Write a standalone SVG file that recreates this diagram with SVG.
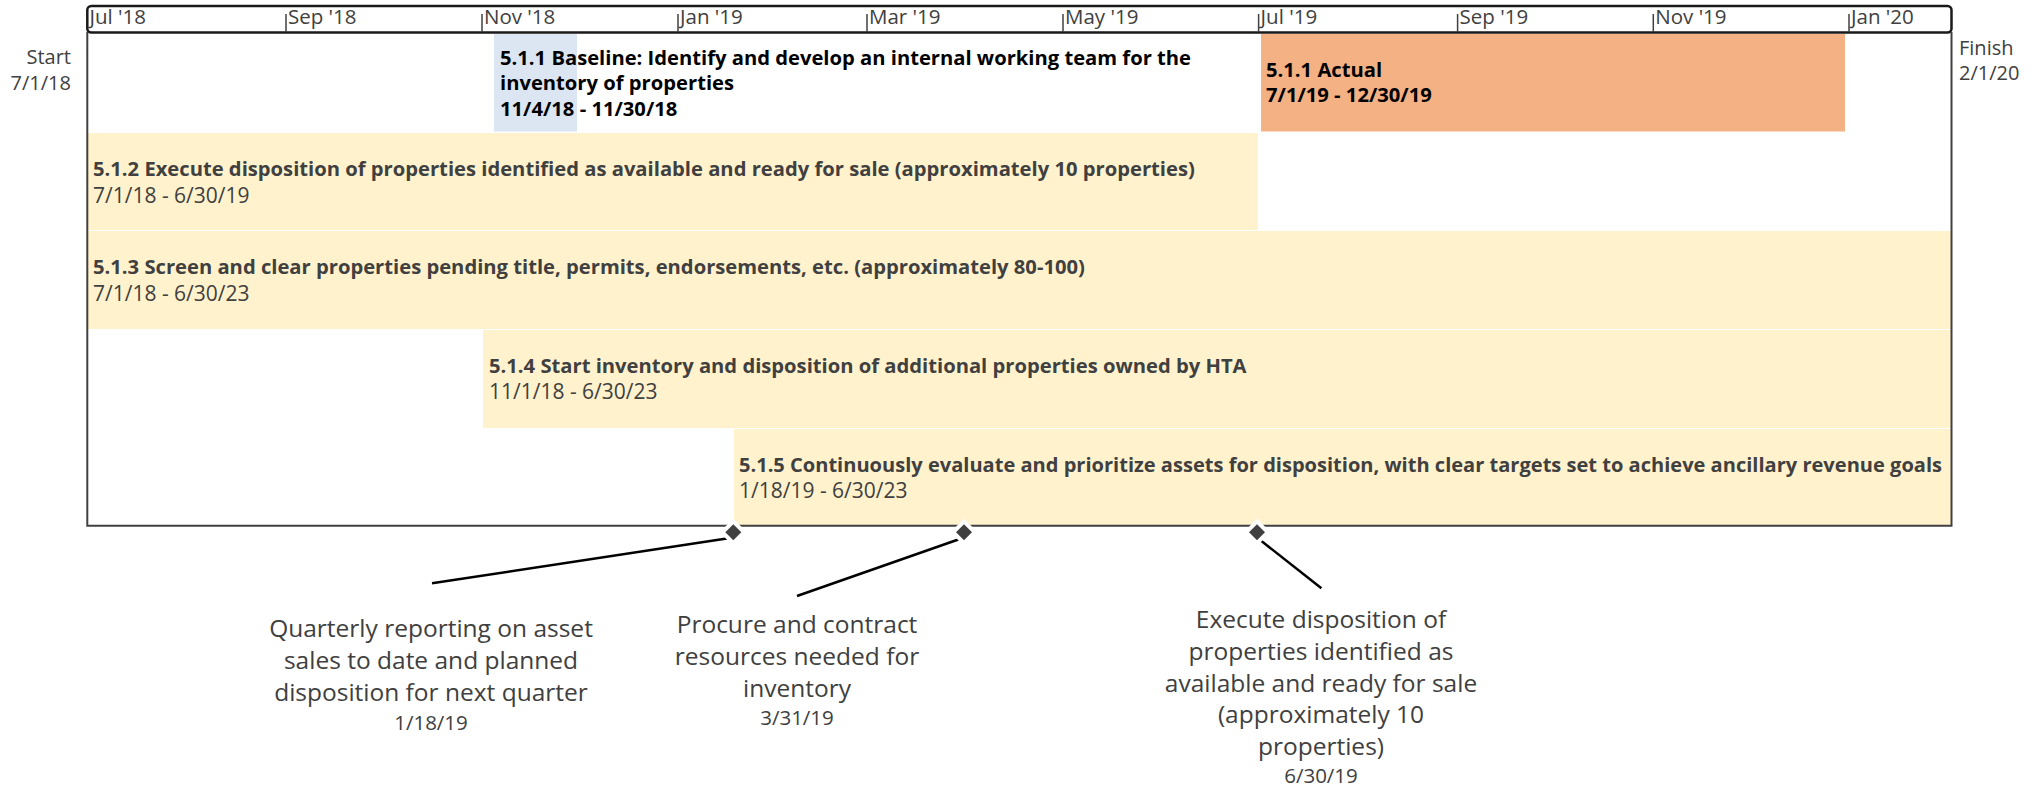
<svg xmlns="http://www.w3.org/2000/svg" width="2040" height="790" viewBox="0 0 2040 790">
<defs>
<style>
text{font-family:"Open Sans","Noto Sans","Liberation Sans",sans-serif;}
.hdr{font-size:20.5px;fill:#404040;}
.se{font-size:20px;fill:#404040;}
.tt{font-size:20.2px;font-weight:700;fill:#404040;}
.dt{font-size:21px;fill:#404040;}
.bk{font-size:20.2px;font-weight:700;fill:#000;}
.ml{font-size:24.5px;font-weight:400;fill:#404040;text-anchor:middle;}
.md{font-size:20.5px;font-weight:400;fill:#404040;text-anchor:middle;}
.bar{fill:#FFF2CC;}
.tick{stroke:#404040;stroke-width:1.5;}
.conn{stroke:#000;stroke-width:2.5;fill:none;}
.dia{fill:#404040;stroke:#fff;stroke-width:8;paint-order:stroke;stroke-linejoin:miter;}
</style>
</defs>
<rect width="2040" height="790" fill="#fff"/>

<g id="task-5-1-1">
<rect x="494" y="34" width="83" height="97.5" fill="#DCE6F2"/>
<rect x="1261" y="34" width="584" height="97.5" fill="#F4B183"/>
<text class="bk" x="500" y="65">5.1.1 Baseline: Identify and develop an internal working team for the</text>
<text class="bk" x="500" y="90">inventory of properties</text>
<text class="bk" x="500" y="116">11/4/18 - 11/30/18</text>
<text class="bk" x="1266" y="77">5.1.1 Actual</text>
<text class="bk" x="1266" y="102">7/1/19 - 12/30/19</text>
</g>

<g id="task-5-1-2">
<rect class="bar" x="88" y="133" width="1170" height="97"/>
<text class="tt" x="93" y="176">5.1.2 Execute disposition of properties identified as available and ready for sale (approximately 10 properties)</text>
<text class="dt" x="93" y="202.5">7/1/18 - 6/30/19</text>
</g>

<g id="task-5-1-3">
<rect class="bar" x="88" y="231" width="1863" height="98"/>
<text class="tt" x="93" y="274">5.1.3 Screen and clear properties pending title, permits, endorsements, etc. (approximately 80-100)</text>
<text class="dt" x="93" y="301">7/1/18 - 6/30/23</text>
</g>

<g id="task-5-1-4">
<rect class="bar" x="483" y="330" width="1468" height="98"/>
<text class="tt" x="489" y="372.5">5.1.4 Start inventory and disposition of additional properties owned by HTA</text>
<text class="dt" x="489" y="399">11/1/18 - 6/30/23</text>
</g>

<g id="task-5-1-5">
<rect class="bar" x="734" y="429" width="1217" height="96"/>
<text class="tt" x="739" y="472" textLength="1203" lengthAdjust="spacingAndGlyphs">5.1.5 Continuously evaluate and prioritize assets for disposition, with clear targets set to achieve ancillary revenue goals</text>
<text class="dt" x="739" y="498">1/18/19 - 6/30/23</text>
</g>

<g id="frame">
<path d="M87.3 32 V525.7 H1951.5 V32" fill="none" stroke="#404040" stroke-width="2"/>
<rect x="87.3" y="6" width="1864.2" height="26.5" rx="4" fill="#fff" stroke="#1a1a1a" stroke-width="2.5"/>
<g class="tick">
<line x1="286" y1="14" x2="286" y2="32"/>
<line x1="482" y1="14" x2="482" y2="32"/>
<line x1="678" y1="14" x2="678" y2="32"/>
<line x1="867" y1="14" x2="867" y2="32"/>
<line x1="1063" y1="14" x2="1063" y2="32"/>
<line x1="1258.6" y1="14" x2="1258.6" y2="32"/>
<line x1="1457.6" y1="14" x2="1457.6" y2="32"/>
<line x1="1653.3" y1="14" x2="1653.3" y2="32"/>
<line x1="1849" y1="14" x2="1849" y2="32"/>
</g>
<text class="hdr" x="89.5" y="24">Jul '18</text>
<text class="hdr" x="288" y="24">Sep '18</text>
<text class="hdr" x="484" y="24">Nov '18</text>
<text class="hdr" x="680" y="24">Jan '19</text>
<text class="hdr" x="869" y="24">Mar '19</text>
<text class="hdr" x="1065" y="24">May '19</text>
<text class="hdr" x="1260.6" y="24">Jul '19</text>
<text class="hdr" x="1459.6" y="24">Sep '19</text>
<text class="hdr" x="1655.3" y="24">Nov '19</text>
<text class="hdr" x="1851" y="24">Jan '20</text>
</g>

<g id="start-label">
<text class="se" x="71" y="64" text-anchor="end">Start</text>
<text class="se" x="71" y="90" text-anchor="end">7/1/18</text>
</g>
<g id="finish-label">
<text class="se" x="1959" y="55">Finish</text>
<text class="se" x="1959" y="80">2/1/20</text>
</g>

<g id="connectors">
<line class="conn" x1="733.3" y1="537.5" x2="432" y2="583.3"/>
<line class="conn" x1="964" y1="537.5" x2="797" y2="596"/>
<line class="conn" x1="1257" y1="537.5" x2="1321.4" y2="588.3"/>
</g>

<g id="milestone-1">
<path class="dia" d="M733.3 524.3 L741.3 532.3 L733.3 540.3 L725.3 532.3 Z"/>
<text class="ml" x="431" y="637">Quarterly reporting on asset</text>
<text class="ml" x="431" y="669">sales to date and planned</text>
<text class="ml" x="431" y="701">disposition for next quarter</text>
<text class="md" x="431" y="730">1/18/19</text>
</g>

<g id="milestone-2">
<path class="dia" d="M964 524.3 L972 532.3 L964 540.3 L956 532.3 Z"/>
<text class="ml" x="797" y="633">Procure and contract</text>
<text class="ml" x="797" y="665">resources needed for</text>
<text class="ml" x="797" y="697">inventory</text>
<text class="md" x="797" y="725">3/31/19</text>
</g>

<g id="milestone-3">
<path class="dia" d="M1257 524.3 L1265 532.3 L1257 540.3 L1249 532.3 Z"/>
<text class="ml" x="1321" y="628">Execute disposition of</text>
<text class="ml" x="1321" y="660">properties identified as</text>
<text class="ml" x="1321" y="692">available and ready for sale</text>
<text class="ml" x="1321" y="723">(approximately 10</text>
<text class="ml" x="1321" y="755">properties)</text>
<text class="md" x="1321" y="783">6/30/19</text>
</g>
</svg>
